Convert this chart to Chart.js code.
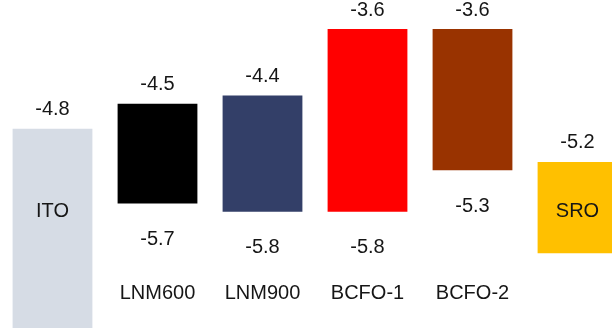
<!DOCTYPE html>
<html>
<head>
<meta charset="utf-8">
<script src="https://cdn.jsdelivr.net/npm/chart.js@4.4.1/dist/chart.umd.min.js"></script>
<style>
  html, body { margin: 0; padding: 0; background: #ffffff; overflow: hidden; }
  #wrap { position: relative; width: 630px; height: 328px; }
</style>
</head>
<body>
<div id="wrap"><canvas id="bands"></canvas></div>
<script>
// Energy levels (eV) of the electrodes and the active layers
const categories   = ['ITO', 'LNM600', 'LNM900', 'BCFO-1', 'BCFO-2', 'SRO'];
const upperLevels  = [-4.8, -4.5, -4.4, -3.6, -3.6, -5.2];
const lowerLevels  = [-7.2, -5.7, -5.8, -5.8, -5.3, -6.3];
const electrodes   = ['ITO', 'SRO'];           // metals: only the work function is labelled
const barColors    = ['#d6dce5', '#000000', '#333f68', '#ff0000', '#993300', '#ffc000'];

const textColor = '#161616';
const labelFont = '20px "Liberation Sans", Arial, sans-serif';

const bandLabels = {
  id: 'bandLabels',
  afterDatasetsDraw(chart) {
    const { ctx, chartArea, scales } = chart;
    const meta = chart.getDatasetMeta(0);
    ctx.save();
    ctx.font = labelFont;
    ctx.fillStyle = textColor;
    ctx.textAlign = 'center';
    ctx.textBaseline = 'middle';
    categories.forEach((name, i) => {
      const x = meta.data[i].x;
      const top = scales.y.getPixelForValue(upperLevels[i]);
      const bottom = scales.y.getPixelForValue(lowerLevels[i]);
      ctx.fillText(upperLevels[i].toFixed(1), x, top - 19);
      if (electrodes.includes(name)) {
        ctx.fillText(name, x, chartArea.top + 211);
      } else {
        ctx.fillText(lowerLevels[i].toFixed(1), x, bottom + 36);
        ctx.fillText(name, x, chartArea.bottom - 35);
      }
    });
    ctx.restore();
  }
};

new Chart(document.getElementById('bands'), {
  type: 'bar',
  data: {
    labels: categories,
    datasets: [{
      data: categories.map((_, i) => [lowerLevels[i], upperLevels[i]]),
      backgroundColor: barColors,
      borderWidth: 0,
      borderSkipped: false,
      barPercentage: 0.76,
      categoryPercentage: 1
    }]
  },
  options: {
    responsive: true,
    maintainAspectRatio: false,
    animation: false,
    layout: { padding: 0 },
    plugins: { legend: { display: false }, tooltip: { enabled: false } },
    scales: {
      x: { display: false, grid: { display: false } },
      y: { display: false, min: -7.2, max: -3.25, grid: { display: false } }
    }
  },
  plugins: [bandLabels]
});
</script>
</body>
</html>
